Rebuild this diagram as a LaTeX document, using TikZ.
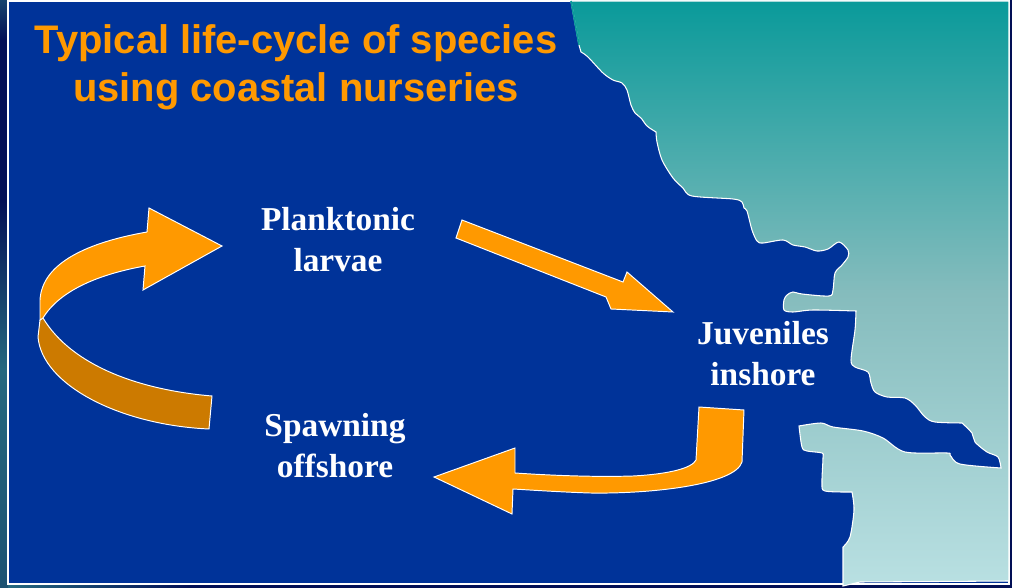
\documentclass[tikz,border=0pt]{standalone}
\usepackage{fontspec}
\setmainfont{Liberation Serif}
\newfontfamily\titlefont{Liberation Sans}
\definecolor{seablue}{HTML}{003399}
\definecolor{arroworange}{HTML}{FF9900}
\definecolor{arrowshade}{HTML}{CC7A00}
\definecolor{landtop}{HTML}{0A9A9A}
\definecolor{landmid}{HTML}{85BCBD}
\definecolor{landbottom}{HTML}{B9E0E2}
\definecolor{slidetop}{HTML}{020F55}
\definecolor{slideteal}{HTML}{25687F}
\definecolor{slidelow}{HTML}{1C5272}
\tikzset{
  titletext/.style={text=arroworange,font=\titlefont\bfseries\fontsize{22.7}{27.3}\selectfont,align=center},
  stagetext/.style={text=white,font=\bfseries\fontsize{19}{23.4}\selectfont,align=center},
  blockarrow/.style={draw=white,line width=0.55pt,line join=miter,fill=arroworange},
}
\begin{document}
\begin{tikzpicture}[x=0.02cm,y=-0.02cm]
\useasboundingbox (0,0) rectangle (1012,588);
% slide background
\fill[slidetop] (0,0) rectangle (1012,588);
\shade[top color=slidetop,bottom color=slideteal] (0,200) rectangle (8,370);
\shade[top color=slideteal,bottom color=slidelow] (0,370) rectangle (8,588);
\shade[top color=slideteal!60!slidetop,bottom color=slidetop] (0,0) rectangle (8,40);
\shade[left color=slideteal,right color=slidetop] (8,584) rectangle (190,588);
\draw[fill=seablue,draw=white,line width=0.9pt] (8,1) rectangle (1009,584);
% land
\path[draw=white,line width=0.6pt,top color=landtop,bottom color=landbottom,middle color=landmid]
  (571,1) -- (579,45) -- (581,52)
  -- plot[smooth,tension=0.5] coordinates {(581,52) (588,57) (603,73) (613,80) (622,83) (627,90) (631,105) (635,113) (641,118) (647,126) (656,132)}
  -- plot[smooth,tension=0.5] coordinates {(656,132) (657,142) (662,160) (673,178) (683,188) (692,196) (733,199) (742,202) (744,208) (747,211) (752,230) (757,241) (763,243) (783,240) (793,245) (805,247) (817,251) (828,249) (839,242) (848,250) (848,257) (842,265) (835,273) (833,290) (829,296) (802,294) (793,292) (787,295) (784,300) (784,310) (793,312) (813,310) (856,311)}
  -- plot[smooth,tension=0.5] coordinates {(856,311) (855,330) (851,360) (855,367) (868,372) (871,383) (875,392) (887,397) (905,398) (915,405) (925,417) (935,422) (962,423)}
  -- plot[smooth,tension=0.5] coordinates {(962,423) (972,433) (975,442) (987,452) (998,457) (1001,468)}
  -- plot[smooth,tension=0.5] coordinates {(1001,468) (960,464) (950,455) (947,453) (905,452) (883,438) (863,431) (833,427) (821,423) (799,426)}
  -- plot[smooth,tension=0.5] coordinates {(799,426) (802,447) (807,451) (822,453) (823,458) (822,483) (825,491) (852,492)}
  -- plot[smooth,tension=0.5] coordinates {(852,492) (854,510) (850,537) (843,547)}
  -- (843,586) -- (860,582) -- (1009,581) -- (1009,1) -- cycle;
\draw[landtop,line width=0.9pt] (571,1) -- (579,45);
% title
\node[titletext] (title) at (296,67) {Typical life-cycle of species\\using coastal nurseries};
% stages
\node[stagetext] (larvae) at (338,240) {Planktonic\\larvae};
\node[stagetext] (juveniles) at (763,354) {Juveniles\\inshore};
\node[stagetext] (spawning) at (335,446) {Spawning\\offshore};
% arrows
\draw[blockarrow,fill=arrowshade] (43,318) -- (40,320) -- (38,337) .. controls (42,385) and (120,425) .. (209,429)
  -- (212,396) .. controls (140,390) and (72,366) .. (43,318) -- cycle;
\draw[blockarrow] (222,246) -- (149,208) -- (147,232)
  .. controls (90,242) and (42,262) .. (40,300)
  -- (40,320) -- (43,318)
  .. controls (60,290) and (100,274) .. (145,266)
  -- (143,290) -- cycle;
\draw[blockarrow] (462,220) -- (623,282) -- (627,272) -- (673,312) -- (611,309) -- (606,297) -- (456,238) -- cycle;
\draw[blockarrow] (699,407) -- (744,410) -- (742,462)
  .. controls (735,485) and (650,494) .. (590,493)
  .. controls (560,492) and (530,490) .. (513,489)
  -- (512,514) -- (434,477) -- (515,448) -- (515,473)
  .. controls (560,476) and (600,477) .. (633,476)
  .. controls (670,474) and (692,468) .. (696,460)
  -- cycle;
\end{tikzpicture}
\end{document}
